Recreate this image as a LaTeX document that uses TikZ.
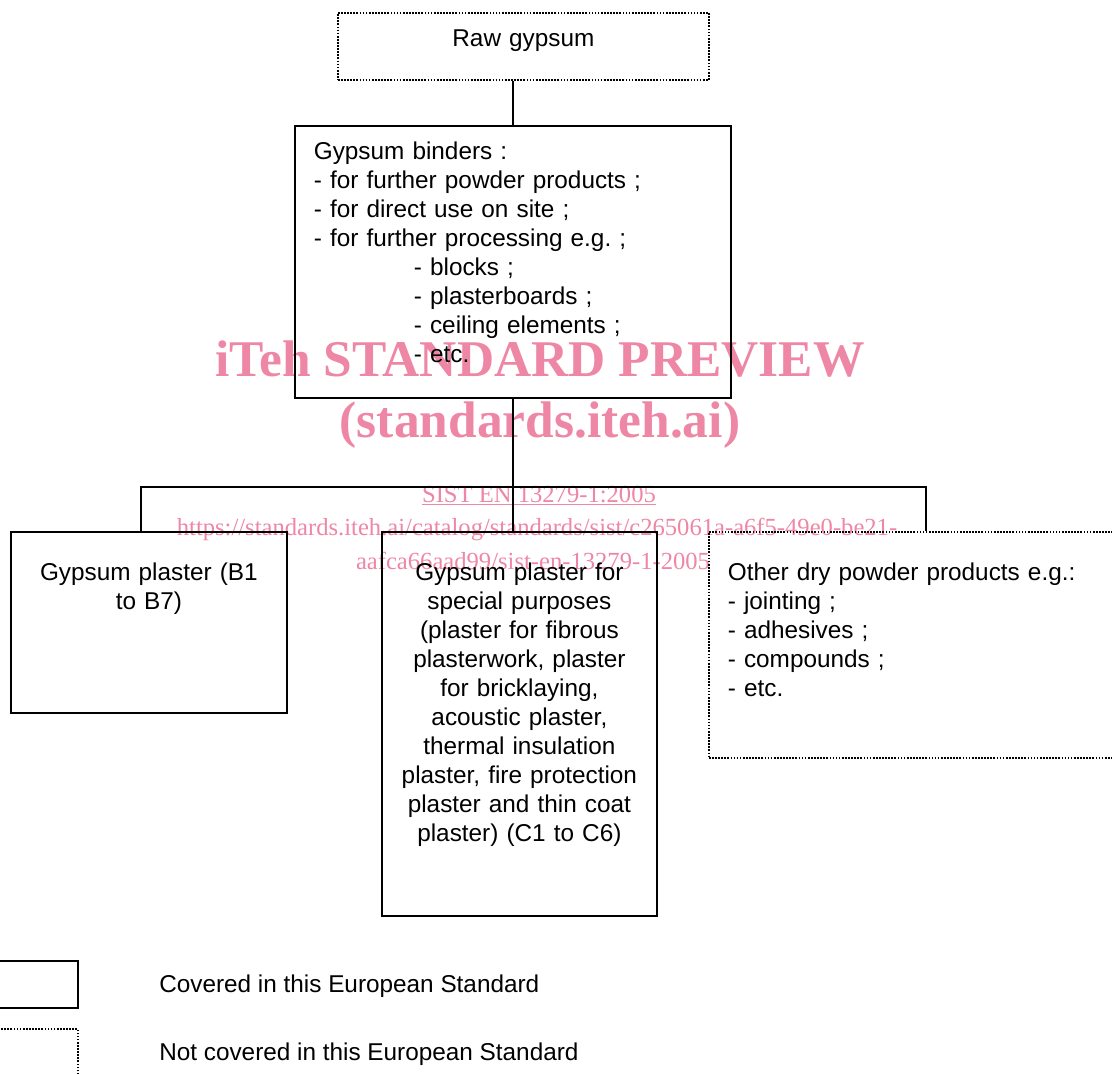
\documentclass[tikz,border=0pt]{standalone}
\usepackage{fontspec}
\setmainfont{Liberation Sans}
\newfontfamily\wmfont{Liberation Serif}
\usepackage{tikz}
\usetikzlibrary{shapes,arrows.meta,positioning}
\usetikzlibrary{calc}
\definecolor{wmpink}{RGB}{238,135,165}
\frenchspacing

\begin{document}
\begin{tikzpicture}
  [
    x=0.025cm, y=-0.025cm,
    Solid/.style={rectangle, draw=black, very thick, anchor=north west, inner sep=0pt, font=\fontsize{17.3pt}{20.6pt}\selectfont},
    Dotted/.style={Solid, densely dotted},
    Plain/.style={anchor=base west, inner sep=0pt, font=\fontsize{17.3pt}{20.6pt}\selectfont},
    Wm/.style={anchor=base, inner sep=0pt, text=wmpink, font=\wmfont\bfseries\fontsize{36.6pt}{40pt}\selectfont},
    WmSmall/.style={anchor=base, inner sep=0pt, text=wmpink, font=\wmfont\fontsize{17.5pt}{20pt}\selectfont}
  ]
  \useasboundingbox (0,0) rectangle (1112,1073);

  % Watermark
  \node[Wm] (wm1) at (540,376) {iTeh STANDARD PREVIEW};
  \node[Wm] (wm2) at (540,437) {(standards.iteh.ai)};
  \node[WmSmall] (wm3) at (539,502) {\underline{SIST EN 13279-1:2005}};
  \node[WmSmall] (wm4) at (537,535) {https://standards.iteh.ai/catalog/standards/sist/c265061a-a6f5-49e0-be21-};
  \node[WmSmall] (wm5) at (533,569) {aafca66aad99/sist-en-13279-1-2005};

  % Nodes
  \node[Dotted, text width=9.275cm, align=center, text height=0.85cm, text depth=0.825cm] (raw) at (337,12) {Raw gypsum};

  \node[Solid, text width=9.95cm, inner xsep=0.475cm, align=left, text height=0.85cm, text depth=5.95cm] (binders) at (294,125)
    {Gypsum binders :\\
     - for further powder products ;\\
     - for direct use on site ;\\
     - for further processing e.g. ;\\
     \hspace*{2.5cm}- blocks ;\\
     \hspace*{2.5cm}- plasterboards ;\\
     \hspace*{2.5cm}- ceiling elements ;\\
     \hspace*{2.5cm}- etc.};

  \node[Solid, text width=6.9cm, align=center, text height=1.225cm, text depth=3.3cm] (plB) at (10,531)
    {Gypsum plaster (B1\\ to B7)};

  \node[Solid, text width=6.875cm, align=center, text height=1.225cm, text depth=8.375cm] (plC) at (381,531)
    {Gypsum plaster for\\
     special purposes\\
     (plaster for fibrous\\
     plasterwork, plaster\\
     for bricklaying,\\
     acoustic plaster,\\
     thermal insulation\\
     plaster, fire protection\\
     plaster and thin coat\\
     plaster) (C1 to C6)};

  \node[Dotted, text width=9.55cm, inner xsep=0.475cm, align=left, text height=1.225cm, text depth=4.425cm] (other) at (708,531)
    {Other dry powder products e.g.:\\
     - jointing ;\\
     - adhesives ;\\
     - compounds ;\\
     - etc.};

  % Legend
  \node[Solid, text width=2.425cm, text height=1.175cm, text depth=0cm] (keyA) at (-20,960) {};
  \node[Dotted, text width=2.425cm, text height=1.5cm, text depth=0cm] (keyB) at (-20,1028) {};
  \node[Plain] (keyAtxt) at (159,992) {Covered in this European Standard};
  \node[Plain] (keyBtxt) at (159,1060) {Not covered in this European Standard};

  \coordinate (busL) at (141,487);
  \coordinate (busR) at (926,487);

  % Lines
  \path [draw, very thick] (binders.north) -- (binders.north |- raw.south);
  \path [draw, very thick] (binders.south) -- (binders.south |- plC.north);
  \path [draw, very thick] (busL |- plB.north) -- (busL) -- (busR) -- (busR |- other.north);

\end{tikzpicture}
\end{document}
